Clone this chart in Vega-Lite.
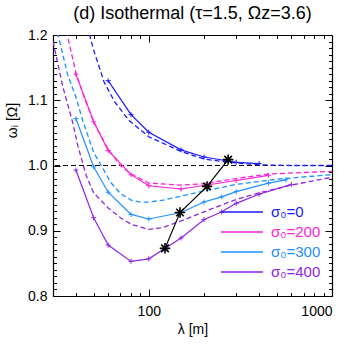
{
  "$schema": "https://vega.github.io/schema/vega-lite/v6.json",
  "width": 279,
  "height": 261,
  "autosize": "none",
  "padding": {"left": 53, "top": 35, "right": 17, "bottom": 53},
  "background": "white",
  "config": {
    "font": "Liberation Sans",
    "view": {"stroke": null},
    "axis": {"grid": false, "domainColor": "black", "tickColor": "black", "labelColor": "black", "titleColor": "black", "domainWidth": 1.2, "tickWidth": 1}
  },
  "title": {"text": "(d) Isothermal (τ=1.5, Ωz=3.6)", "fontSize": 18, "fontWeight": "normal", "anchor": "middle", "offset": 5, "color": "black"},
  "datasets": {
    "ref": [{"w": 1.0}],
    "solid": [
      {"s": "σ₀=0", "lam": 60, "w": 1.130},
      {"s": "σ₀=0", "lam": 80, "w": 1.078},
      {"s": "σ₀=0", "lam": 100, "w": 1.051},
      {"s": "σ₀=0", "lam": 150, "w": 1.024},
      {"s": "σ₀=0", "lam": 200, "w": 1.013},
      {"s": "σ₀=0", "lam": 300, "w": 1.005},
      {"s": "σ₀=0", "lam": 400, "w": 1.003},
      {"s": "σ₀=200", "lam": 40, "w": 1.140},
      {"s": "σ₀=200", "lam": 50, "w": 1.067},
      {"s": "σ₀=200", "lam": 60, "w": 1.023},
      {"s": "σ₀=200", "lam": 80, "w": 0.986},
      {"s": "σ₀=200", "lam": 100, "w": 0.969},
      {"s": "σ₀=200", "lam": 150, "w": 0.964},
      {"s": "σ₀=200", "lam": 300, "w": 0.977},
      {"s": "σ₀=200", "lam": 450, "w": 0.985},
      {"s": "σ₀=300", "lam": 40, "w": 1.072},
      {"s": "σ₀=300", "lam": 50, "w": 0.998},
      {"s": "σ₀=300", "lam": 60, "w": 0.959},
      {"s": "σ₀=300", "lam": 80, "w": 0.925},
      {"s": "σ₀=300", "lam": 100, "w": 0.918},
      {"s": "σ₀=300", "lam": 150, "w": 0.928},
      {"s": "σ₀=300", "lam": 200, "w": 0.944},
      {"s": "σ₀=300", "lam": 250, "w": 0.952},
      {"s": "σ₀=300", "lam": 300, "w": 0.960},
      {"s": "σ₀=300", "lam": 450, "w": 0.973},
      {"s": "σ₀=300", "lam": 560, "w": 0.978},
      {"s": "σ₀=400", "lam": 40, "w": 0.993},
      {"s": "σ₀=400", "lam": 50, "w": 0.920},
      {"s": "σ₀=400", "lam": 60, "w": 0.878},
      {"s": "σ₀=400", "lam": 80, "w": 0.853},
      {"s": "σ₀=400", "lam": 100, "w": 0.857},
      {"s": "σ₀=400", "lam": 150, "w": 0.889},
      {"s": "σ₀=400", "lam": 200, "w": 0.917},
      {"s": "σ₀=400", "lam": 250, "w": 0.929},
      {"s": "σ₀=400", "lam": 300, "w": 0.942},
      {"s": "σ₀=400", "lam": 400, "w": 0.956},
      {"s": "σ₀=400", "lam": 600, "w": 0.971}
    ],
    "dashed": [
      {"s": "σ₀=0", "lam": 45, "w": 1.225},
      {"s": "σ₀=0", "lam": 50, "w": 1.177},
      {"s": "σ₀=0", "lam": 57, "w": 1.128},
      {"s": "σ₀=0", "lam": 65, "w": 1.098},
      {"s": "σ₀=0", "lam": 78, "w": 1.069},
      {"s": "σ₀=0", "lam": 100, "w": 1.044},
      {"s": "σ₀=0", "lam": 150, "w": 1.0215},
      {"s": "σ₀=0", "lam": 200, "w": 1.010},
      {"s": "σ₀=0", "lam": 270, "w": 1.005},
      {"s": "σ₀=0", "lam": 400, "w": 1.001},
      {"s": "σ₀=0", "lam": 600, "w": 1.0},
      {"s": "σ₀=0", "lam": 1000, "w": 1.0},
      {"s": "σ₀=200", "lam": 34, "w": 1.23},
      {"s": "σ₀=200", "lam": 40, "w": 1.142},
      {"s": "σ₀=200", "lam": 45, "w": 1.100},
      {"s": "σ₀=200", "lam": 50, "w": 1.067},
      {"s": "σ₀=200", "lam": 60, "w": 1.025},
      {"s": "σ₀=200", "lam": 70, "w": 1.000},
      {"s": "σ₀=200", "lam": 80, "w": 0.987},
      {"s": "σ₀=200", "lam": 100, "w": 0.973},
      {"s": "σ₀=200", "lam": 150, "w": 0.970},
      {"s": "σ₀=200", "lam": 200, "w": 0.972},
      {"s": "σ₀=200", "lam": 300, "w": 0.980},
      {"s": "σ₀=200", "lam": 450, "w": 0.987},
      {"s": "σ₀=200", "lam": 670, "w": 0.989},
      {"s": "σ₀=200", "lam": 1000, "w": 0.991},
      {"s": "σ₀=300", "lam": 30, "w": 1.24},
      {"s": "σ₀=300", "lam": 32, "w": 1.2},
      {"s": "σ₀=300", "lam": 36, "w": 1.14},
      {"s": "σ₀=300", "lam": 40, "w": 1.105},
      {"s": "σ₀=300", "lam": 43.6, "w": 1.069},
      {"s": "σ₀=300", "lam": 50, "w": 1.02},
      {"s": "σ₀=300", "lam": 55, "w": 1.0},
      {"s": "σ₀=300", "lam": 62, "w": 0.974},
      {"s": "σ₀=300", "lam": 70, "w": 0.957},
      {"s": "σ₀=300", "lam": 80, "w": 0.947},
      {"s": "σ₀=300", "lam": 90, "w": 0.944},
      {"s": "σ₀=300", "lam": 100, "w": 0.944},
      {"s": "σ₀=300", "lam": 120, "w": 0.947},
      {"s": "σ₀=300", "lam": 150, "w": 0.953},
      {"s": "σ₀=300", "lam": 200, "w": 0.961},
      {"s": "σ₀=300", "lam": 300, "w": 0.971},
      {"s": "σ₀=300", "lam": 500, "w": 0.979},
      {"s": "σ₀=300", "lam": 1000, "w": 0.986},
      {"s": "σ₀=400", "lam": 30, "w": 1.19},
      {"s": "σ₀=400", "lam": 34, "w": 1.12},
      {"s": "σ₀=400", "lam": 38.5, "w": 1.065},
      {"s": "σ₀=400", "lam": 41, "w": 1.03},
      {"s": "σ₀=400", "lam": 45.5, "w": 0.985},
      {"s": "σ₀=400", "lam": 50, "w": 0.958},
      {"s": "σ₀=400", "lam": 60, "w": 0.935},
      {"s": "σ₀=400", "lam": 70, "w": 0.920},
      {"s": "σ₀=400", "lam": 80, "w": 0.910},
      {"s": "σ₀=400", "lam": 100, "w": 0.902},
      {"s": "σ₀=400", "lam": 120, "w": 0.905},
      {"s": "σ₀=400", "lam": 150, "w": 0.915},
      {"s": "σ₀=400", "lam": 200, "w": 0.929},
      {"s": "σ₀=400", "lam": 300, "w": 0.948},
      {"s": "σ₀=400", "lam": 400, "w": 0.958},
      {"s": "σ₀=400", "lam": 600, "w": 0.970},
      {"s": "σ₀=400", "lam": 1000, "w": 0.982}
    ],
    "stars": [
      {"o": 1, "lam": 271, "w": 1.009},
      {"o": 2, "lam": 208, "w": 0.968},
      {"o": 3, "lam": 148, "w": 0.928},
      {"o": 4, "lam": 122.6, "w": 0.873}
    ]
  },
  "resolve": {"axis": {"x": "independent", "y": "independent"}, "scale": {"color": "independent"}, "legend": {"color": "independent"}},
  "layer": [
    {
      "data": {"name": "ref"},
      "mark": {"type": "rule", "color": "black", "strokeDash": [5, 3], "strokeWidth": 1.2},
      "encoding": {
        "y": {"field": "w", "type": "quantitative", "scale": {"domain": [0.8, 1.2], "nice": false, "zero": false},
          "axis": {"orient": "left", "values": [0.8, 0.9, 1.0, 1.1, 1.2], "format": ".1f", "ticks": false, "labelFontSize": 14, "labelPadding": 6, "title": "ωᵢ [Ω]", "titleFontSize": 14, "titleFontWeight": "normal", "titlePadding": 8, "titleY": 85}
        }
      }
    },
    {
      "data": {"name": "dashed"},
      "mark": {"type": "line", "strokeDash": [5, 3], "strokeWidth": 1.3, "clip": true},
      "encoding": {
        "x": {"field": "lam", "type": "quantitative", "scale": {"type": "log", "domain": [30, 1000], "nice": false},
          "axis": {"orient": "bottom", "values": [100, 1000], "format": "d", "ticks": false, "labelFontSize": 14, "labelPadding": 8, "title": "λ [m]", "titleFontSize": 14, "titleFontWeight": "normal", "titlePadding": 4}
        },
        "y": {"field": "w", "type": "quantitative",
          "axis": {"orient": "right", "values": [0.8, 0.9, 1.0, 1.1, 1.2], "tickSize": -7, "labels": false, "title": null}
        },
        "color": {"field": "s", "type": "nominal", "legend": null, "scale": {"domain": ["σ₀=0", "σ₀=200", "σ₀=300", "σ₀=400"], "range": ["#1a1aff", "#ff1ed8", "#1e90ff", "#8f25e0"]}}
      }
    },
    {
      "data": {"name": "solid"},
      "mark": {"type": "line", "strokeWidth": 1.2, "clip": true},
      "encoding": {
        "x": {"field": "lam", "type": "quantitative",
          "axis": {"orient": "bottom", "values": [40, 50, 60, 70, 80, 90, 200, 300, 400, 500, 600, 700, 800, 900], "tickSize": -3.5, "labels": false, "title": null, "domain": false}
        },
        "y": {"field": "w", "type": "quantitative",
          "axis": {"orient": "left", "values": [0.81,0.82,0.83,0.84,0.85,0.86,0.87,0.88,0.89,0.91,0.92,0.93,0.94,0.95,0.96,0.97,0.98,0.99,1.01,1.02,1.03,1.04,1.05,1.06,1.07,1.08,1.09,1.11,1.12,1.13,1.14,1.15,1.16,1.17,1.18,1.19], "tickSize": -3.5, "labels": false, "title": null, "domain": false}
        },
        "color": {"field": "s", "type": "nominal",
          "scale": {"domain": ["σ₀=0", "σ₀=200", "σ₀=300", "σ₀=400"], "range": ["#1a1aff", "#ff1ed8", "#1e90ff", "#8f25e0"]},
          "legend": {"orient": "none", "legendX": 181, "legendY": 169, "title": null, "symbolType": "M-3,0H3", "symbolSize": 196, "symbolStrokeWidth": 1.5, "labelFontSize": 15, "labelOffset": 21, "rowPadding": 4, "labelFont": "Liberation Sans",
            "encode": {"labels": {"update": {"fill": {"signal": "datum.value === 'σ₀=0' ? '#1a1aff' : datum.value === 'σ₀=200' ? '#ff1ed8' : datum.value === 'σ₀=300' ? '#1e90ff' : '#8f25e0'"}}}}
          }
        }
      }
    },
    {
      "data": {"name": "solid"},
      "mark": {"type": "point", "shape": "M-1,0H1M0,-1V1", "size": 25, "filled": false, "strokeWidth": 1, "opacity": 1, "clip": true},
      "encoding": {
        "x": {"field": "lam", "type": "quantitative",
          "axis": {"orient": "top", "values": [40, 50, 60, 70, 80, 90, 200, 300, 400, 500, 600, 700, 800, 900], "tickSize": -3.5, "labels": false, "title": null, "domain": false}
        },
        "y": {"field": "w", "type": "quantitative",
          "axis": {"orient": "right", "values": [0.81,0.82,0.83,0.84,0.85,0.86,0.87,0.88,0.89,0.91,0.92,0.93,0.94,0.95,0.96,0.97,0.98,0.99,1.01,1.02,1.03,1.04,1.05,1.06,1.07,1.08,1.09,1.11,1.12,1.13,1.14,1.15,1.16,1.17,1.18,1.19], "tickSize": -3.5, "labels": false, "title": null, "domain": false}
        },
        "color": {"field": "s", "type": "nominal", "legend": null, "scale": {"domain": ["σ₀=0", "σ₀=200", "σ₀=300", "σ₀=400"], "range": ["#1a1aff", "#ff1ed8", "#1e90ff", "#8f25e0"]}}
      }
    },
    {
      "data": {"name": "stars"},
      "mark": {"type": "line", "color": "black", "strokeWidth": 1.2},
      "encoding": {
        "x": {"field": "lam", "type": "quantitative",
          "axis": {"orient": "top", "values": [100, 1000], "tickSize": -7, "labels": false, "title": null}
        },
        "y": {"field": "w", "type": "quantitative",
          "axis": {"orient": "left", "values": [0.8, 0.9, 1.0, 1.1, 1.2], "tickSize": -7, "labels": false, "title": null, "domain": false}
        },
        "order": {"field": "o"}
      }
    },
    {
      "data": {"name": "stars"},
      "mark": {"type": "point", "shape": "M-1,0H1M0,-1V1M-0.72,-0.72L0.72,0.72M-0.72,0.72L0.72,-0.72", "size": 110, "filled": false, "color": "black", "strokeWidth": 1.6, "opacity": 1},
      "encoding": {
        "x": {"field": "lam", "type": "quantitative",
          "axis": {"orient": "bottom", "values": [100, 1000], "tickSize": -7, "labels": false, "title": null, "domain": false}
        },
        "y": {"field": "w", "type": "quantitative", "axis": null}
      }
    }
  ]
}
